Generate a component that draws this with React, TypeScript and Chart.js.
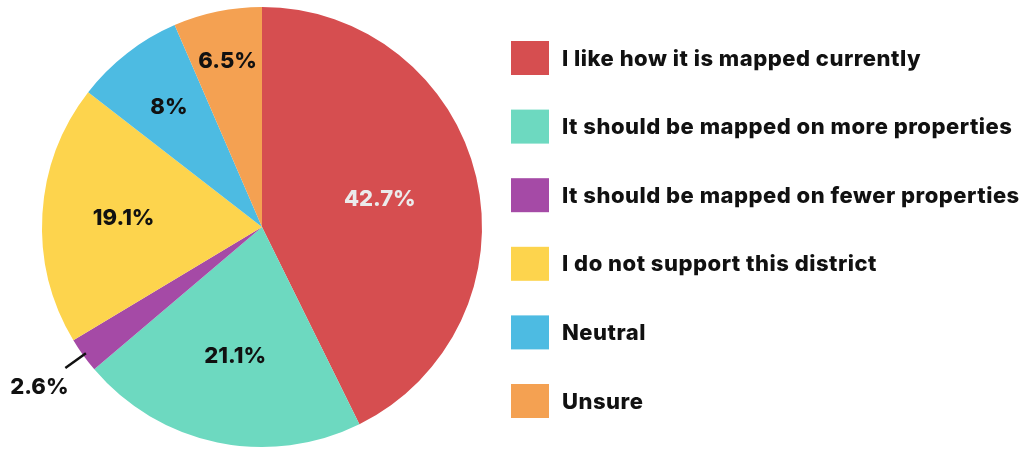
import React, { useEffect, useRef } from "react";
import { Chart, registerables } from "chart.js";

Chart.register(...registerables);

const categories = [
  "I like how it is mapped currently",
  "It should be mapped on more properties",
  "It should be mapped on fewer properties",
  "I do not support this district",
  "Neutral",
  "Unsure",
];
const values = [42.7, 21.1, 2.6, 19.1, 8, 6.5];
const valueLabels = ["42.7%", "21.1%", "2.6%", "19.1%", "8%", "6.5%"];
const colors = ["#D64E50", "#6DD9C0", "#A54AA6", "#FDD44D", "#4DBBE2", "#F4A152"];
const labelColors = ["#EBEBEB", "#111111", "#111111", "#111111", "#111111", "#111111"];
// radial placement factor for each label (style); negative = outside with leader line
const labelRadius = [0.55, 0.6, -1, 0.63, 0.69, 0.77];

const sliceLabelPlugin = {
  id: "sliceLabels",
  afterDatasetsDraw(chart: any) {
    const ctx = chart.ctx;
    const meta = chart.getDatasetMeta(0);
    ctx.save();
    ctx.font = "800 22px Inter, 'Noto Sans', sans-serif";
    ctx.textAlign = "center";
    ctx.textBaseline = "middle";
    meta.data.forEach((arc: any, i: number) => {
      const { x, y, startAngle, endAngle, outerRadius } = arc.getProps(
        ["x", "y", "startAngle", "endAngle", "outerRadius"],
        true
      );
      const mid = (startAngle + endAngle) / 2;
      const cx = Math.cos(mid);
      const cy = Math.sin(mid);
      const f = labelRadius[i];
      if (f > 0) {
        ctx.fillStyle = labelColors[i];
        ctx.fillText(valueLabels[i], x + cx * outerRadius * f, y + cy * outerRadius * f);
      } else {
        ctx.strokeStyle = "#111111";
        ctx.lineWidth = 2.5;
        ctx.beginPath();
        ctx.moveTo(x + cx * outerRadius * 0.985, y + cy * outerRadius * 0.985);
        ctx.lineTo(x + cx * outerRadius * 1.1, y + cy * outerRadius * 1.1);
        ctx.stroke();
        ctx.fillStyle = labelColors[i];
        ctx.fillText(valueLabels[i], x + cx * outerRadius * 1.245, y + cy * outerRadius * 1.245 + 1);
      }
    });
    ctx.restore();
  },
};

const legendPlugin = {
  id: "sideLegend",
  afterDraw(chart: any) {
    const ctx = chart.ctx;
    const labels = chart.data.labels as string[];
    const bg = chart.data.datasets[0].backgroundColor as string[];
    ctx.save();
    ctx.font = "800 22px Inter, 'Noto Sans', sans-serif";
    (ctx as any).letterSpacing = "0.5px";
    ctx.textAlign = "left";
    ctx.textBaseline = "middle";
    const x0 = 511;
    const y0 = 58;
    const step = 68.6;
    labels.forEach((lab, i) => {
      const cy = y0 + i * step;
      ctx.fillStyle = bg[i];
      ctx.fillRect(x0, cy - 17, 38, 34);
      ctx.fillStyle = "#111111";
      ctx.fillText(lab, 562, cy + 1);
    });
    ctx.restore();
  },
};

export default function App() {
  const ref = useRef<HTMLCanvasElement | null>(null);
  useEffect(() => {
    if (!ref.current) return;
    const chart = new Chart(ref.current, {
      type: "pie",
      data: {
        labels: categories,
        datasets: [
          {
            data: values,
            backgroundColor: colors,
            borderWidth: 0,
          },
        ],
      },
      options: {
        animation: false,
        responsive: true,
        maintainAspectRatio: false,
        layout: { padding: { left: 42, top: 7, bottom: 4, right: 540 } },
        plugins: {
          legend: { display: false },
          tooltip: { enabled: false },
        },
      },
      plugins: [sliceLabelPlugin, legendPlugin],
    });
    return () => chart.destroy();
  }, []);
  return (
    <div style={{ position: "absolute", left: 0, top: 0, width: 1022, height: 451, background: "#fff" }}>
      <canvas ref={ref} />
    </div>
  );
}
